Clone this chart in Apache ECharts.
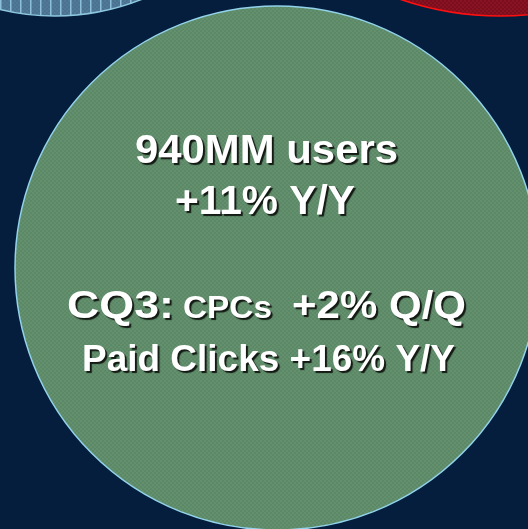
<!DOCTYPE html>
<html>
<head>
<meta charset="utf-8">
<script src="https://cdn.jsdelivr.net/npm/echarts@6/dist/echarts.min.js"></script>
<style>
html,body{margin:0;padding:0;background:#061e3d;}
#chart{width:528px;height:529px;}
</style>
</head>
<body>
<div id="chart"></div>
<script>
// Circles (centre x, centre y, radius in chart units = px)
var circleNames = ['Users', 'Top-left', 'Top-right'];
var circleX = [277, 55, 500];
var circleY = [268, -218, -290];
var circleR = [262, 234, 306];

// Text lines
var line1 = '940MM users';
var line2 = '+11% Y/Y';
var line3a = 'CQ3:';
var line3b = 'CPCs';
var line3c = '+2% Q/Q';
var line4 = 'Paid Clicks +16% Y/Y';

var FONT = '"Liberation Sans", Arial, Helvetica, sans-serif';
var shadow = {textShadowColor: 'rgba(15,20,15,0.95)', textShadowOffsetX: 2, textShadowOffsetY: 2, textShadowBlur: 1};

function checker(c1, c2) {
  var cv = document.createElement('canvas');
  cv.width = 4; cv.height = 4;
  var g = cv.getContext('2d');
  g.fillStyle = c1; g.fillRect(0, 0, 4, 4);
  g.fillStyle = c2; g.fillRect(0, 0, 2, 2); g.fillRect(2, 2, 2, 2);
  return cv;
}
function stripes(c1, c2, line) {
  var cv = document.createElement('canvas');
  cv.width = 10; cv.height = 4;
  var g = cv.getContext('2d');
  g.fillStyle = c1; g.fillRect(0, 0, 10, 4);
  g.fillStyle = c2; g.fillRect(0, 0, 2, 2); g.fillRect(2, 2, 2, 2); g.fillRect(4, 0, 2, 2); g.fillRect(6, 2, 2, 2); g.fillRect(8, 0, 2, 2);
  g.fillStyle = line; g.fillRect(0, 0, 1.5, 4);
  return cv;
}

var styles = [
  {fill: {image: checker('#5b8866', '#64906e'), repeat: 'repeat'}, stroke: '#92d2ea', width: 1.5},
  {fill: {image: stripes('#4a7390', '#52799a', '#8dbfd9'), repeat: 'repeat'}, stroke: '#8ec8e0', width: 1.5},
  {fill: {image: checker('#7c0d1d', '#881323'), repeat: 'repeat'}, stroke: '#ff1010', width: 1.6}
];

var data = circleNames.map(function (n, i) {
  return {name: n, value: [circleX[i], circleY[i], circleR[i], i]};
});

var measureCtx = document.createElement('canvas').getContext('2d');
function textWidth(t, size) {
  measureCtx.font = 'bold ' + size + 'px ' + FONT;
  return measureCtx.measureText(t).width;
}

function txt(text, x, y, size, sx, align) {
  return {
    type: 'text', x: x, y: y, scaleX: sx || 1, z: 10,
    style: Object.assign({
      text: text, x: 0, y: 0, fill: '#ffffff',
      fontFamily: FONT, fontWeight: 'bold', fontSize: size,
      align: align || 'center', verticalAlign: 'middle'
    }, shadow)
  };
}
// left-aligned text stretched to span [x0, x1]
function span(text, x0, x1, y, size) {
  return txt(text, x0, y, size, (x1 - x0) / textWidth(text, size), 'left');
}

var chart = echarts.init(document.getElementById('chart'), null, {renderer: 'canvas'});
chart.setOption({
  backgroundColor: '#061e3d',
  animation: false,
  grid: {left: 0, right: 0, top: 0, bottom: 0},
  xAxis: {type: 'value', min: 0, max: 528, show: false},
  yAxis: {type: 'value', min: 0, max: 529, inverse: true, show: false},
  series: [{
    type: 'custom',
    clip: false,
    silent: true,
    data: data,
    renderItem: function (params, api) {
      var c = api.coord([api.value(0), api.value(1)]);
      var r = api.size([api.value(2), 0])[0];
      var s = styles[api.value(3)];
      return {
        type: 'circle',
        shape: {cx: c[0], cy: c[1], r: r},
        style: {fill: s.fill, stroke: s.stroke, lineWidth: s.width}
      };
    }
  }],
  graphic: [
    span(line1, 135, 398, 152, 41),
    span(line2, 175, 355, 203, 41),
    span(line3a, 67, 174, 307, 39),
    span(line3b, 183, 272, 309.5, 31),
    span(line3c, 292, 466, 307, 39),
    span(line4, 82, 455, 361, 36.5)
  ]
});
</script>
</body>
</html>
